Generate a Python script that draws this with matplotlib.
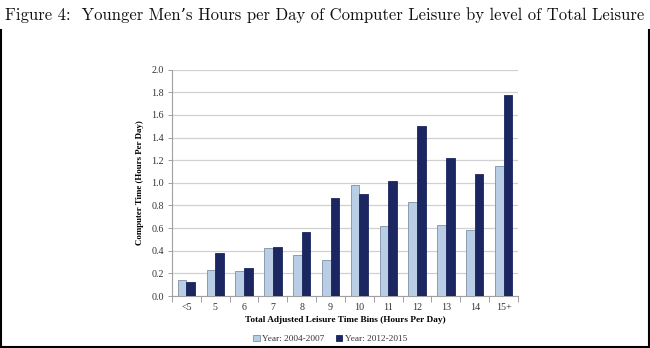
import matplotlib.pyplot as plt
import numpy as np
from matplotlib.lines import Line2D
from matplotlib.ticker import FixedLocator

bins = ["<5", "5", "6", "7", "8", "9", "10", "11", "12", "13", "14", "15+"]
early = [0.14, 0.23, 0.22, 0.42, 0.36, 0.32, 0.98, 0.62, 0.83, 0.63, 0.58, 1.15]
late = [0.12, 0.38, 0.25, 0.43, 0.57, 0.87, 0.90, 1.02, 1.50, 1.22, 1.08, 1.78]
series_names = ["Year: 2004-2007", "Year: 2012-2015"]

light = "#b9cde5"
dark = "#1c2660"
serif = ["Liberation Serif", "DejaVu Serif"]

fig = plt.figure(figsize=(6.5, 3.48), dpi=100)
ax = fig.add_axes([0.2646, 0.1494, 0.5323, 0.6503])

x = np.arange(len(bins))
w = 0.3
ax.bar(x - w / 2, early, w, color=light, edgecolor="#7f8fa6", linewidth=0.6,
       label=series_names[0], zorder=3)
ax.bar(x + w / 2, late, w, color=dark, edgecolor=dark, linewidth=0.6,
       label=series_names[1], zorder=3)

ax.set_xlim(-0.5, len(bins) - 0.5)
ax.set_ylim(0, 2.0)
ax.set_yticks(np.arange(0, 2.01, 0.2))
ax.set_yticklabels([f"{v:.1f}" for v in np.arange(0, 2.01, 0.2)])
ax.set_xticks(x)
ax.set_xticklabels(bins)
ax.xaxis.set_minor_locator(FixedLocator(np.arange(-0.5, len(bins), 1.0)))
ax.tick_params(axis="x", which="major", length=0, pad=5)
ax.tick_params(axis="x", which="minor", length=4, color="#a0a0a0", width=0.7)
ax.tick_params(axis="y", length=3, color="#a0a0a0", width=0.7, pad=3)
for lab in ax.get_xticklabels() + ax.get_yticklabels():
    lab.set_fontfamily(serif)
    lab.set_fontsize(7.2)
    lab.set_color("#333333")

ax.grid(axis="y", color="#d0d0d0", linewidth=0.9, zorder=0)
for side in ["top", "right"]:
    ax.spines[side].set_visible(False)
for side in ["left", "bottom"]:
    ax.spines[side].set_color("#a0a0a0")
    ax.spines[side].set_linewidth(0.8)

ax.set_ylabel("Computer Time (Hours Per Day)", fontfamily=serif,
              fontweight="bold", fontsize=6.4, labelpad=5)
ax.set_xlabel("Total Adjusted Leisure Time Bins (Hours Per Day)",
              fontfamily=serif, fontweight="bold", fontsize=6.7, labelpad=3)

leg = fig.legend(loc="center", bbox_to_anchor=(0.508, 0.026), ncol=2,
                 frameon=False, handlelength=0.7, handleheight=0.7,
                 handletextpad=0.3, columnspacing=1.2,
                 prop={"family": serif, "size": 6.7})
for t in leg.get_texts():
    t.set_color("#333333")

fig.text(0.008, 0.9425, "Figure 4:  Younger Men\u2019s Hours per Day of Computer Leisure by level of Total Leisure",
         fontfamily=["cmr10", "DejaVu Serif"], fontsize=12.0, color="#111111",
         ha="left", va="baseline")

# thin frame around the lower part of the page
y_top = 1 - 30 / 348
fig.add_artist(Line2D([0.0015, 0.0015], [0.003, y_top], color="black", linewidth=1.5))
fig.add_artist(Line2D([0.9985, 0.9985], [0.003, y_top], color="black", linewidth=1.5))
fig.add_artist(Line2D([0.0, 1.0], [0.003, 0.003], color="black", linewidth=1.5))

fig.savefig("out.png", dpi=100)
